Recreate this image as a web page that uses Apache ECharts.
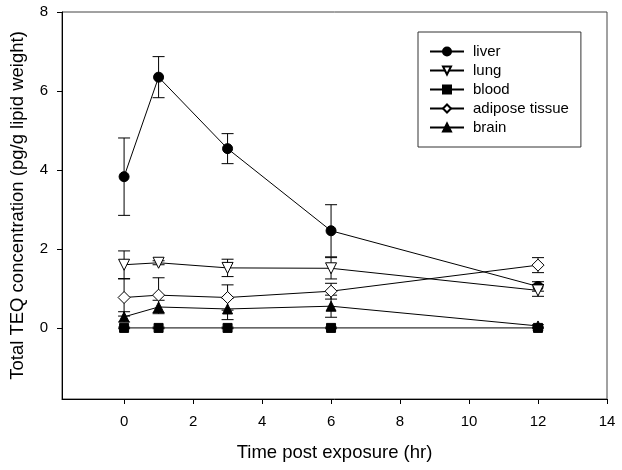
<!DOCTYPE html>
<html><head><meta charset="utf-8">
<script src="https://cdn.jsdelivr.net/npm/echarts@6/dist/echarts.min.js"></script>
<style>html,body{margin:0;padding:0;background:#fff}#c{width:622px;height:470px}</style>
</head><body><div id="c"></div>
<script>
const times = [0, 1, 3, 6, 12];
const xTicks = [0, 2, 4, 6, 8, 10, 12, 14];
const yTicks = [0, 2, 4, 6, 8];
const liver = [3.83, 6.35, 4.54, 2.46, 1.05];
const liverErr = [0.98, 0.52, 0.38, 0.66, 0.12];
const lung = [1.60, 1.65, 1.52, 1.51, 0.95];
const lungErr = [0.35, 0.05, 0.22, 0.27, 0.15];
const blood = [0.0, 0.0, 0.0, 0.0, 0.0];
const bloodErr = [0.02, 0.02, 0.02, 0.02, 0.02];
const adipose = [0.77, 0.83, 0.77, 0.93, 1.59];
const adiposeErr = [0.47, 0.44, 0.32, 0.20, 0.19];
const brain = [0.28, 0.53, 0.48, 0.55, 0.05];
const brainErr = [0.13, 0.17, 0.27, 0.28, 0.03];

const FONT = 'Liberation Sans';
const chart = echarts.init(document.getElementById('c'), null, {renderer: 'canvas'});

function pts(vals) { return times.map((t, i) => [t, vals[i]]); }
function errData(vals, errs) { return times.map((t, i) => [t, vals[i], errs[i]]); }

function errSeries(vals, errs) {
  return {
    type: 'custom',
    data: errData(vals, errs),
    z: 3,
    silent: true,
    encode: {x: 0, y: [1]},
    renderItem: function (params, api) {
      const x = api.value(0), y = api.value(1), e = api.value(2);
      const top = api.coord([x, y + e]);
      const bot = api.coord([x, y - e]);
      const w = 6;
      const st = {stroke: '#000', lineWidth: 1};
      return {type: 'group', children: [
        {type: 'line', shape: {x1: top[0], y1: top[1], x2: bot[0], y2: bot[1]}, style: st},
        {type: 'line', shape: {x1: top[0] - w, y1: top[1], x2: top[0] + w, y2: top[1]}, style: st},
        {type: 'line', shape: {x1: bot[0] - w, y1: bot[1], x2: bot[0] + w, y2: bot[1]}, style: st}
      ]};
    }
  };
}

function lineSeries(name, vals, symbol, size, filled, rotate) {
  return {
    name: name, type: 'line', data: pts(vals), z: 4,
    symbol: symbol, symbolSize: size, symbolRotate: rotate || 0,
    showAllSymbol: true,
    lineStyle: {color: '#000', width: 1},
    itemStyle: {color: filled ? '#000' : '#fff', borderColor: '#000', borderWidth: 1, opacity: 1},
    emphasis: {disabled: true},
    animation: false
  };
}

chart.setOption({
  animation: false,
  backgroundColor: '#fff',
  textStyle: {fontFamily: FONT, color: '#000'},
  grid: {left: 59, top: 12, right: 15, bottom: 71, show: true, borderColor: '#444', borderWidth: 1},
  legend: {
    orient: 'vertical', left: 418, top: 32,
    padding: [12, 12, 12, 11],
    borderColor: '#333', borderWidth: 1,
    itemWidth: 34, itemHeight: 10, itemGap: 4,
    textStyle: {fontFamily: FONT, fontSize: 15, lineHeight: 15, color: '#000', padding: [0, 0, 0, 4]},
    data: ['liver', 'lung', 'blood', 'adipose tissue', 'brain']
  },
  xAxis: {
    type: 'value', min: -1.8, max: 14,
    name: 'Time post exposure (hr)', nameLocation: 'middle', nameGap: 44,
    nameTextStyle: {fontFamily: FONT, fontSize: 18.5, color: '#000'},
    splitLine: {show: false},
    axisLine: {show: true, onZero: false, lineStyle: {color: '#000', width: 1}},
    axisTick: {show: true, inside: false, length: 5, customValues: xTicks, lineStyle: {color: '#000'}},
    axisLabel: {customValues: xTicks, margin: 15, fontFamily: FONT, fontSize: 15, color: '#000'}
  },
  yAxis: {
    type: 'value', min: -1.8, max: 8,
    name: 'Total TEQ concentration (pg/g lipid weight)', nameLocation: 'middle', nameGap: 35,
    nameTextStyle: {fontFamily: FONT, fontSize: 18.5, color: '#000'},
    splitLine: {show: false},
    axisLine: {show: true, onZero: false, lineStyle: {color: '#000', width: 1}},
    axisTick: {show: true, inside: false, length: 5, customValues: yTicks, lineStyle: {color: '#000'}},
    axisLabel: {customValues: yTicks, margin: 14, fontFamily: FONT, fontSize: 15, color: '#000'}
  },
  series: [
    errSeries(liver, liverErr),
    errSeries(lung, lungErr),
    errSeries(blood, bloodErr),
    errSeries(adipose, adiposeErr),
    errSeries(brain, brainErr),
    lineSeries('liver', liver, 'circle', 10, true),
    lineSeries('lung', lung, 'triangle', 11, false, 180),
    lineSeries('blood', blood, 'rect', 9, true),
    lineSeries('adipose tissue', adipose, 'diamond', 12, false),
    lineSeries('brain', brain, 'triangle', 10, true)
  ]
});
</script></body></html>
